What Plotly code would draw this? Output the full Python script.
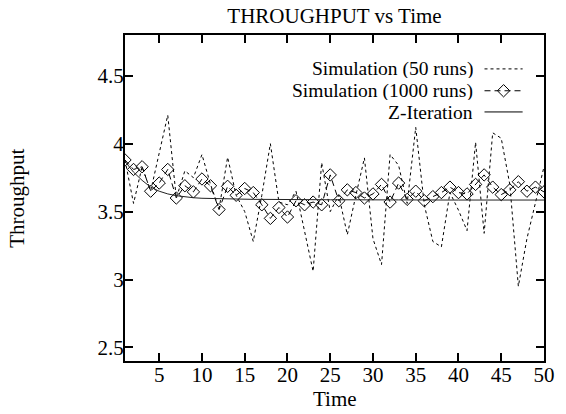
import plotly.graph_objects as go

# time steps
time = list(range(1, 51))

# Simulation (50 runs)
sim_50 = [3.88, 3.56, 3.83, 3.65, 3.93, 4.21, 3.60, 3.80, 3.75, 3.92,
          3.70, 3.52, 3.90, 3.62, 3.50, 3.28, 3.62, 4.00, 3.57, 3.55,
          3.65, 3.36, 3.06, 3.86, 3.50, 3.62, 3.33, 3.62, 3.895, 3.30,
          3.11, 3.92, 3.84, 3.56, 4.12, 3.55, 3.28, 3.24, 3.64, 3.51,
          3.36, 4.01, 3.34, 4.08, 4.04, 3.70, 2.95, 3.30, 3.56, 3.83]

# Simulation (1000 runs)
sim_1000 = [3.88, 3.81, 3.83, 3.65, 3.71, 3.81, 3.60, 3.69, 3.645, 3.74,
            3.69, 3.515, 3.686, 3.62, 3.67, 3.64, 3.55, 3.45, 3.53, 3.46,
            3.58, 3.55, 3.57, 3.55, 3.77, 3.58, 3.66, 3.64, 3.60, 3.63,
            3.70, 3.57, 3.71, 3.59, 3.65, 3.58, 3.61, 3.64, 3.68, 3.64,
            3.63, 3.70, 3.77, 3.68, 3.625, 3.66, 3.72, 3.65, 3.68, 3.645]

# Z-Iteration
z_iter = [3.87, 3.79, 3.73, 3.68, 3.65, 3.63, 3.617, 3.608, 3.602, 3.598,
          3.596, 3.594, 3.593, 3.592, 3.591, 3.590, 3.590, 3.589, 3.589, 3.588,
          3.588, 3.588, 3.587, 3.587, 3.587, 3.587, 3.586, 3.586, 3.586, 3.586,
          3.586, 3.586, 3.586, 3.585, 3.585, 3.585, 3.585, 3.585, 3.585, 3.585,
          3.585, 3.585, 3.585, 3.585, 3.585, 3.585, 3.585, 3.585, 3.585, 3.585]

legend_names = ["Simulation (50 runs)", "Simulation (1000 runs)", "Z-Iteration"]

x_ticks = [5, 10, 15, 20, 25, 30, 35, 40, 45, 50]
y_ticks = [2.5, 3, 3.5, 4, 4.5]

FONT = "Liberation Serif, Times New Roman, serif"
FS = 21
dash50 = "3px,3px"
dash1000 = "6px,4px"

fig = go.Figure()

fig.add_trace(go.Scatter(x=time, y=sim_50, mode="lines", name=legend_names[0],
                         line=dict(color="black", width=1, dash=dash50), showlegend=False))
fig.add_trace(go.Scatter(x=time, y=sim_1000, mode="lines+markers", name=legend_names[1],
                         line=dict(color="black", width=1, dash=dash1000),
                         marker=dict(symbol="diamond-open", size=9.5, color="black", line=dict(width=1)),
                         showlegend=False))
fig.add_trace(go.Scatter(x=time, y=z_iter, mode="lines", name=legend_names[2],
                         line=dict(color="#222222", width=1), showlegend=False))

# gnuplot style key: text right aligned, sample on the right (overlay axis in plot fractions)
key_x0, key_x1 = 0.858, 0.949
key_rows = [0.896, 0.829, 0.764]
key_styles = [dict(dash=dash50), dict(dash=dash1000), dict(dash="solid")]
for i, name in enumerate(legend_names):
    fig.add_trace(go.Scatter(x=[key_x0, key_x1], y=[key_rows[i]] * 2, mode="lines",
                             line=dict(color="black", width=1, **key_styles[i]),
                             xaxis="x2", yaxis="y2", showlegend=False, hoverinfo="skip"))
    fig.add_annotation(x=0.832, y=key_rows[i], xref="x2", yref="y2", text=name,
                       showarrow=False, xanchor="right", yanchor="middle",
                       height=18, valign="middle", borderpad=0,
                       font=dict(family=FONT, size=19.5, color="black"))
fig.add_trace(go.Scatter(x=[(key_x0 + key_x1) / 2], y=[key_rows[1]], mode="markers",
                         marker=dict(symbol="diamond-open", size=9.5, color="black", line=dict(width=1)),
                         xaxis="x2", yaxis="y2", showlegend=False, hoverinfo="skip"))

axis_common = dict(showline=True, linewidth=2, linecolor="black", mirror="ticks",
                   ticks="inside", ticklen=8, tickwidth=1.5, tickcolor="black",
                   showgrid=False, zeroline=False,
                   tickfont=dict(family=FONT, size=FS, color="black"))

fig.update_layout(
    width=566, height=414,
    margin=dict(l=125, r=11, t=35, b=53),
    paper_bgcolor="white", plot_bgcolor="white",
    font=dict(family=FONT, size=FS, color="black"),
    title=dict(text="THROUGHPUT vs Time", x=0.5, xref="paper", xanchor="center",
               y=1 - 16 / 414, yref="container", yanchor="middle",
               font=dict(family=FONT, size=FS, color="black")),
    xaxis=dict(range=[1, 50], tickvals=x_ticks, ticklabelstandoff=-6, **axis_common),
    yaxis=dict(range=[2.4, 4.8], tickvals=y_ticks, ticklabelstandoff=-5, **axis_common),
    xaxis2=dict(range=[0, 1], overlaying="x", visible=False, fixedrange=True),
    yaxis2=dict(range=[0, 1], overlaying="y", visible=False, fixedrange=True),
    showlegend=False,
)

fig.add_annotation(text="Time", x=0.5, xref="paper", y=-(399 - 361) / 326, yref="paper",
                   showarrow=False, yanchor="middle", font=dict(family=FONT, size=FS))
fig.add_annotation(text="Throughput", x=-(125 - 14) / 430, xref="paper", y=0.5, yref="paper",
                   textangle=-90, showarrow=False, xanchor="center", yanchor="middle",
                   font=dict(family=FONT, size=FS))

# drop the default page margin so the figure sits at the window origin
fig.write_html("out.html", config={"displayModeBar": False},
               post_script="document.body.style.margin='0';")
